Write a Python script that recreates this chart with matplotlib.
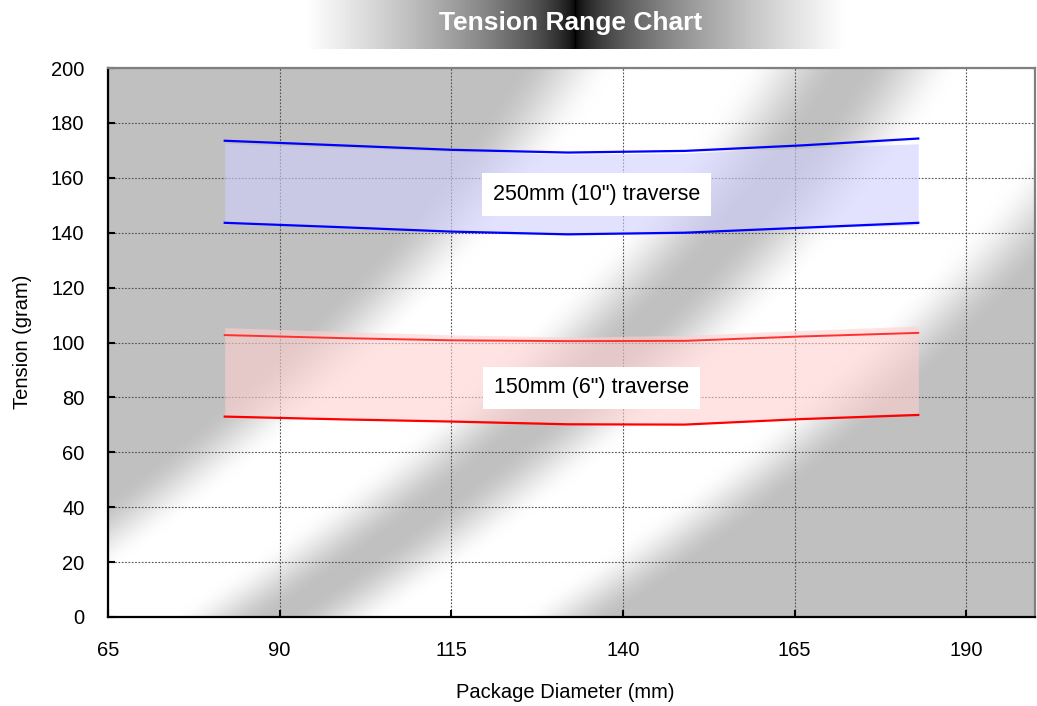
import numpy as np
import matplotlib
matplotlib.use("Agg")
import matplotlib.pyplot as plt

plt.rcParams['font.family'] = ['Liberation Sans', 'DejaVu Sans']

# package diameter (mm) where the curves are sampled
diameter = [82, 99, 115, 132, 149, 166, 183]

# 250mm (10") traverse - upper / lower tension limits (gram)
wide_hi = [173.5, 171.8, 170.2, 169.2, 169.8, 171.8, 174.3]
wide_lo = [143.6, 142.0, 140.4, 139.4, 140.0, 141.8, 143.6]
# 150mm (6") traverse
narrow_hi = [102.7, 101.6, 100.8, 100.5, 100.6, 102.2, 103.5]
narrow_lo = [73.0, 72.0, 71.2, 70.2, 70.1, 72.1, 73.6]

# shaded areas don't sit exactly on the lines in the original
wide_band_hi = [172.6, 171.0, 169.6, 168.6, 169.0, 170.8, 172.4]
wide_band_lo = [143.2, 141.8, 140.4, 139.6, 140.2, 141.6, 142.8]
narrow_band_hi = [105.4, 104.0, 102.8, 102.0, 102.6, 104.4, 106.0]
narrow_band_lo = [73.6, 72.6, 71.6, 70.8, 70.8, 72.6, 74.3]

labels = ['250mm (10") traverse', '150mm (6") traverse']
label_pos = [(136.1, 154.0), (135.4, 83.5)]

xticks = [65, 90, 115, 140, 165, 190]
yticks = list(range(0, 201, 20))


def stripe_background(w=927, h=549):
    # two soft white stripes on silver, bending slightly towards the top
    X, R = np.meshgrid(np.arange(w), np.arange(h))
    d = h - R  # pixels above the x axis
    u = 108 + X - (1.484 * d - 0.000798 * d ** 2)
    v = np.zeros((h, w))
    for p in (105, 450):
        t = np.clip(1 - np.abs(u - p) / 165, 0, 1)
        t = np.clip(t * 1.6, 0, 1)
        v = np.maximum(v, t * t * (3 - 2 * t))
    g = 0.753 + 0.247 * v
    return np.dstack([g, g, g])


fig = plt.figure(figsize=(10.37, 7.06), dpi=100)

# title band, dark in the middle fading to white
band = fig.add_axes([0, 1 - 49 / 706, 1, 49 / 706])
xs = np.arange(1037)
shade = np.clip(np.abs(xs - 575) / 270, 0, 1) ** 0.6
band.imshow(np.tile(shade, (2, 1)), cmap='gray', vmin=0, vmax=1,
            aspect='auto', extent=[0, 1, 0, 1])
band.axis('off')
fig.text(571 / 1037, 1 - 23 / 706, 'Tension Range Chart', color='white',
         fontsize=19, fontweight='bold', ha='center', va='center')

ax = fig.add_axes([108 / 1037, 1 - 617 / 706, 927 / 1037, 549 / 706])
ax.imshow(stripe_background(), extent=[0, 1, 0, 1], transform=ax.transAxes,
          aspect='auto', zorder=0, interpolation='bilinear')

ax.fill_between(diameter, wide_band_lo, wide_band_hi, color='#d0d0ff',
                alpha=0.6, linewidth=0, zorder=1)
ax.fill_between(diameter, narrow_band_lo, narrow_band_hi, color='#ffd0d0',
                alpha=0.6, linewidth=0, zorder=1)

ax.plot(diameter, wide_hi, color='#0000ff', lw=1.6, zorder=2)
ax.plot(diameter, wide_lo, color='#0000ff', lw=1.6, zorder=2)
ax.plot(diameter, narrow_hi, color='#ff3030', lw=1.4, zorder=2)
ax.plot(diameter, narrow_lo, color='#ff0000', lw=1.6, zorder=2)

for txt, (tx, ty) in zip(labels, label_pos):
    ax.text(tx, ty, txt, fontsize=15.5, ha='center', va='center', zorder=3,
            bbox=dict(boxstyle='square,pad=0.5', fc='white', ec='none'))

ax.set_xlim(65, 200)
ax.set_ylim(0, 200)
ax.set_xticks(xticks)
ax.set_yticks(yticks)
ax.tick_params(direction='in', length=5, width=1.5, labelsize=14.5, pad=17)
ax.set_axisbelow(True)
ax.grid(True, color='#505050', linestyle=(0, (1.5, 1.5)), linewidth=0.8)

for side in ('left', 'bottom'):
    ax.spines[side].set_color('black')
    ax.spines[side].set_linewidth(1.6)
for side in ('top', 'right'):
    ax.spines[side].set_color('#808080')
    ax.spines[side].set_linewidth(1.6)

fig.text(565 / 1037, 1 - 692 / 706, 'Package Diameter (mm)', fontsize=14.5,
         ha='center', va='center')
fig.text(23 / 1037, 1 - 342 / 706, 'Tension (gram)', fontsize=14.5,
         ha='center', va='center', rotation=90)

fig.savefig('out.png', dpi=100)
